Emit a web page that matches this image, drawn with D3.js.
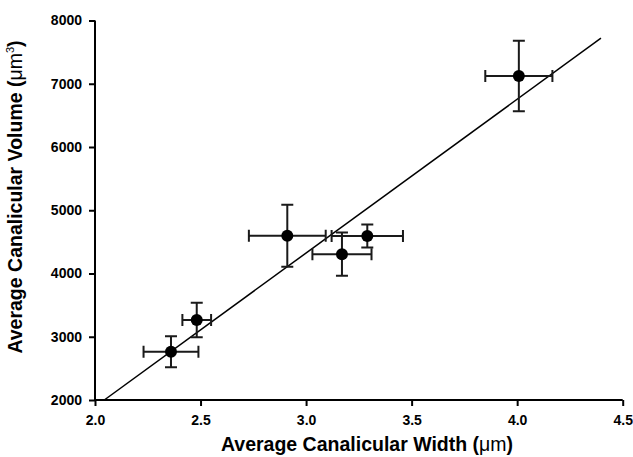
<!DOCTYPE html>
<html>
<head>
<meta charset="utf-8">
<script src="https://cdn.jsdelivr.net/npm/d3@7"></script>
<style>
  body { margin: 0; background: #fff; }
  text { font-family: "Liberation Sans", Arial, sans-serif; font-weight: bold; fill: #000; }
</style>
</head>
<body>
<script>
/* data */
var widths    = [2.36, 2.482, 2.911, 3.17, 3.29, 4.008]
var widthErr  = [0.13, 0.068, 0.182, 0.14, 0.169, 0.159]
var volumes   = [2762, 3265, 4598, 4306, 4592, 7122]
var volumeErr = [245, 273, 490, 342, 182, 558]
var fitSlope = 2431
var fitIntercept = -2969
var fitRange = [2.044, 4.397]
var xTicks = [2.0, 2.5, 3.0, 3.5, 4.0, 4.5]
var yTicks = [2000, 3000, 4000, 5000, 6000, 7000, 8000]

/* setup */
var width = 633
var height = 457
var margin = { left: 95, right: 10.3, top: 20.5, bottom: 57 }

var svg = d3.select('body').append('svg')
    .attr('width', width)
    .attr('height', height)

var x = d3.scaleLinear().domain([2.0, 4.5]).range([margin.left, width - margin.right])
var y = d3.scaleLinear().domain([2000, 8000]).range([height - margin.bottom, margin.top])

var points = widths.map(function(w, i) {
    return { x: w, dx: widthErr[i], y: volumes[i], dy: volumeErr[i] }
})

/* axes */
var xAxis = svg.append('g')
    .attr('transform', 'translate(0,' + y(2000) + ')')
    .call(d3.axisBottom(x).tickValues(xTicks).tickFormat(d3.format('.1f')).tickSize(6).tickPadding(9))

var yAxis = svg.append('g')
    .attr('transform', 'translate(' + x(2.0) + ',0)')
    .call(d3.axisLeft(y).tickValues(yTicks).tickSize(6).tickPadding(7).tickFormat(d3.format('d')))

svg.selectAll('.domain').attr('stroke', '#000').attr('stroke-width', 2)
svg.selectAll('.tick line').attr('stroke', '#000').attr('stroke-width', 2)
svg.selectAll('.tick text').style('font-size', '14px').attr('fill', '#000')
xAxis.selectAll('.domain').attr('d', 'M' + x(2.0) + ',0H' + x(4.5))
yAxis.selectAll('.domain').attr('d', 'M0,' + y(2000) + 'V' + y(8000))

/* fit line */
svg.append('line')
    .attr('x1', x(fitRange[0]))
    .attr('y1', y(fitSlope * fitRange[0] + fitIntercept))
    .attr('x2', x(fitRange[1]))
    .attr('y2', y(fitSlope * fitRange[1] + fitIntercept))
    .attr('stroke', '#000')
    .attr('stroke-width', 1.5)

/* error bars */
var cap = 6
var err = svg.append('g')
    .attr('stroke', '#1a1a1a')
    .attr('stroke-width', 2)
    .attr('fill', 'none')

err.selectAll('path.h').data(points).enter().append('path')
    .attr('d', function(d) {
        var x0 = x(d.x - d.dx), x1 = x(d.x + d.dx), yy = y(d.y)
        return 'M' + x0 + ',' + yy + 'H' + x1 +
            'M' + x0 + ',' + (yy - cap) + 'V' + (yy + cap) +
            'M' + x1 + ',' + (yy - cap) + 'V' + (yy + cap)
    })

err.selectAll('path.v').data(points).enter().append('path')
    .attr('d', function(d) {
        var y0 = y(d.y - d.dy), y1 = y(d.y + d.dy), xx = x(d.x)
        return 'M' + xx + ',' + y0 + 'V' + y1 +
            'M' + (xx - cap) + ',' + y0 + 'H' + (xx + cap) +
            'M' + (xx - cap) + ',' + y1 + 'H' + (xx + cap)
    })

svg.append('g').selectAll('circle').data(points).enter().append('circle')
    .attr('cx', function(d) { return x(d.x) })
    .attr('cy', function(d) { return y(d.y) })
    .attr('r', 6)
    .attr('fill', '#000')

/* titles */
var xt = svg.append('text')
    .attr('x', 367)
    .attr('y', 451)
    .attr('text-anchor', 'middle')
    .style('font-size', '19.5px')
xt.append('tspan').text('Average Canalicular Width (')
xt.append('tspan').style('font-weight', 'normal').text('\u03bcm')
xt.append('tspan').text(')')

var yt = svg.append('text')
    .attr('transform', 'translate(22,197) rotate(-90)')
    .attr('text-anchor', 'middle')
    .style('font-size', '19.5px')
yt.append('tspan').text('Average Canalicular Volume (')
yt.append('tspan').style('font-weight', 'normal').text('\u03bcm')
yt.append('tspan').style('font-weight', 'normal').style('font-size', '11px').attr('dy', -8).text('3')
yt.append('tspan').attr('dy', 8).text(')')
</script>
</body>
</html>
